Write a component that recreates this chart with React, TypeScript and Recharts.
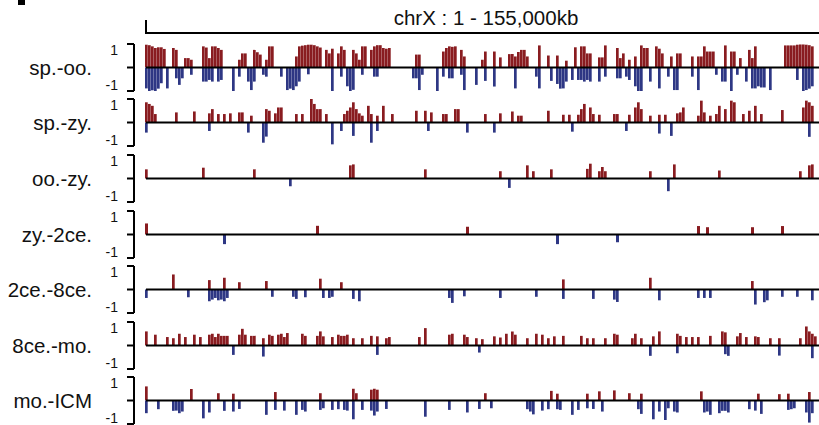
import React from "react";
import { ComposedChart, Bar, XAxis, YAxis, ReferenceLine } from "recharts";

// chrX split into 224 bins (~0.69 Mb each); values are [bin, magnitude]
const BIN_COUNT = 224;
const X_MIN = -4.17;
const X_MAX = 224.17;
const BASE_START = -0.17;

const RED = "#891c20";
const BLUE = "#2e3784";
const FONT = "'Liberation Sans', Arial, Helvetica, sans-serif";

const spOoUp = [
    [0, 0.97], [1, 0.95], [2, 0.9], [3, 0.83], [4, 0.86], [5, 0.86], [6, 0.79], [9, 0.83], [10, 0.75], [13, 0.4],
    [14, 0.4], [15, 0.33], [19, 0.9], [20, 0.85], [21, 0.4], [22, 0.9], [23, 0.9], [24, 0.83], [25, 0.75], [31, 0.33],
    [32, 0.6], [33, 0.6], [36, 0.75], [37, 0.65], [38, 0.55], [40, 0.33], [41, 0.9], [42, 0.9], [50, 0.47], [51, 0.9],
    [52, 0.93], [53, 0.95], [54, 0.97], [55, 0.97], [56, 0.95], [57, 0.9], [58, 0.85], [60, 0.75], [61, 0.6], [62, 0.8],
    [64, 0.6], [65, 0.9], [66, 0.75], [69, 0.75], [70, 0.6], [71, 0.33], [72, 0.9], [73, 0.9], [75, 0.75], [76, 0.9],
    [77, 0.95], [78, 0.95], [79, 0.83], [80, 0.8], [81, 0.83], [90, 0.55], [91, 0.55], [99, 0.68], [100, 0.83], [101, 0.9],
    [102, 0.88], [103, 0.9], [105, 0.75], [106, 0.47], [112, 0.33], [113, 0.68], [116, 0.68], [118, 0.43], [121, 0.57], [122, 0.57],
    [123, 0.47], [124, 0.66], [125, 0.75], [126, 0.75], [127, 0.47], [131, 0.94], [134, 0.51], [137, 0.51], [140, 0.29], [143, 0.86],
    [145, 0.9], [146, 0.9], [147, 0.6], [148, 0.6], [151, 0.43], [152, 0.43], [153, 0.94], [157, 0.83], [158, 0.4], [159, 0.6],
    [161, 0.33], [163, 0.47], [165, 0.94], [166, 0.83], [167, 0.83], [170, 0.9], [171, 0.8], [172, 0.6], [175, 0.47], [177, 0.6],
    [178, 0.6], [182, 0.47], [184, 0.47], [185, 0.47], [186, 0.9], [187, 0.68], [188, 0.68], [189, 0.68], [193, 0.94], [195, 0.68],
    [196, 0.68], [198, 0.4], [201, 0.75], [202, 0.4], [203, 0.9], [213, 0.94], [214, 0.94], [215, 0.94], [216, 0.94], [217, 0.97],
    [218, 0.98], [219, 0.98], [220, 0.97], [221, 0.95], [222, 0.9],
];
const spOoDown = [
    [0, 0.89], [1, 1.0], [2, 0.97], [3, 1.0], [4, 0.9], [5, 0.67], [7, 0.89], [10, 0.46], [11, 0.74], [12, 0.46],
    [15, 0.31], [19, 0.6], [20, 0.6], [21, 0.53], [22, 0.6], [24, 0.6], [25, 0.53], [29, 1.0], [31, 0.39], [34, 0.6],
    [35, 0.96], [36, 0.6], [39, 0.31], [40, 0.39], [45, 0.39], [47, 0.96], [48, 0.9], [49, 0.96], [50, 0.8], [51, 0.6],
    [54, 0.29], [62, 1.0], [65, 0.39], [67, 0.8], [68, 1.0], [69, 0.95], [72, 0.31], [76, 0.39], [77, 0.39], [89, 0.46],
    [90, 0.46], [91, 0.96], [92, 0.31], [97, 1.0], [99, 0.39], [101, 0.46], [102, 0.46], [105, 0.31], [106, 0.96], [110, 0.74],
    [113, 0.57], [116, 0.81], [123, 0.89], [130, 0.39], [131, 0.89], [135, 0.57], [137, 0.7], [138, 0.9], [139, 0.89], [140, 0.6],
    [142, 0.53], [144, 0.53], [145, 0.53], [146, 0.6], [147, 0.53], [148, 0.6], [151, 0.6], [153, 0.39], [157, 0.46], [158, 0.46],
    [160, 0.39], [161, 0.53], [163, 0.8], [164, 1.0], [165, 1.0], [168, 0.6], [171, 0.89], [174, 0.39], [176, 0.96], [177, 0.96],
    [182, 0.39], [184, 0.96], [190, 0.31], [192, 0.6], [193, 0.6], [195, 1.0], [197, 0.31], [200, 0.6], [202, 0.89], [203, 0.89],
    [204, 0.8], [205, 0.85], [206, 0.85], [208, 0.96], [217, 0.53], [219, 1.0], [220, 0.96], [221, 0.9], [222, 0.8],
];

const spZyUp = [
    [0, 0.86], [1, 0.79], [2, 0.71], [3, 0.36], [10, 0.43], [16, 0.47], [21, 0.39], [22, 0.57], [24, 0.36], [26, 0.36],
    [28, 0.39], [31, 0.43], [32, 0.43], [35, 0.29], [40, 0.57], [41, 0.5], [43, 0.39], [44, 0.64], [45, 0.64], [50, 0.36],
    [52, 0.36], [55, 1.0], [56, 0.79], [57, 0.57], [58, 0.57], [60, 0.36], [66, 0.36], [67, 0.5], [68, 0.64], [69, 0.86],
    [70, 0.57], [71, 0.39], [72, 0.29], [74, 0.71], [75, 0.36], [77, 0.29], [79, 0.71], [82, 0.36], [90, 0.5], [93, 0.5],
    [95, 0.43], [99, 0.36], [100, 0.36], [103, 0.57], [104, 0.57], [113, 0.36], [118, 0.39], [122, 0.47], [124, 0.29], [125, 0.29],
    [134, 0.5], [139, 0.33], [141, 0.33], [144, 0.33], [145, 0.57], [146, 0.79], [148, 0.64], [149, 0.36], [151, 0.33], [156, 0.36],
    [157, 0.36], [161, 0.33], [163, 0.64], [164, 0.86], [165, 0.57], [168, 0.29], [171, 0.33], [173, 0.33], [177, 0.39], [178, 0.43],
    [179, 0.64], [184, 0.29], [185, 0.93], [186, 0.43], [188, 0.29], [190, 0.36], [191, 0.71], [193, 0.57], [195, 0.93], [196, 0.86],
    [199, 0.36], [201, 0.5], [203, 0.71], [205, 0.36], [212, 0.53], [219, 0.64], [220, 0.93], [221, 0.86], [222, 0.71],
];
const spZyDown = [
    [0, 0.43], [21, 0.36], [34, 0.43], [39, 0.86], [40, 0.6], [62, 0.93], [65, 0.36], [69, 0.57], [75, 0.86], [77, 0.36],
    [94, 0.36], [107, 0.43], [116, 0.43], [142, 0.39], [160, 0.36], [171, 0.47], [175, 0.57], [221, 0.61],
];

const ooZyUp = [
    [0, 0.39], [19, 0.46], [36, 0.39], [68, 0.56], [69, 0.6], [93, 0.39], [118, 0.31], [127, 0.56], [129, 0.31], [135, 0.39],
    [147, 0.41], [148, 0.63], [151, 0.31], [152, 0.49], [153, 0.31], [168, 0.31], [176, 0.6], [191, 0.34], [218, 0.31], [221, 0.56],
    [222, 0.6],
];
const ooZyDown = [[48, 0.33], [121, 0.4], [174, 0.54]];

const zy2ceUp = [[0, 0.47], [57, 0.37], [107, 0.33], [184, 0.36], [187, 0.31], [202, 0.31], [212, 0.36]];
const zy2ceDown = [[26, 0.41], [137, 0.41], [157, 0.33]];

const ce2ce8Up = [
    [9, 0.64], [21, 0.4], [26, 0.5], [31, 0.31], [40, 0.36], [58, 0.46], [65, 0.31], [139, 0.43], [168, 0.5], [202, 0.36],
];
const ce2ce8Down = [
    [0, 0.36], [14, 0.33], [21, 0.5], [22, 0.43], [23, 0.36], [24, 0.46], [25, 0.43], [26, 0.5], [27, 0.36], [42, 0.31],
    [49, 0.31], [50, 0.4], [53, 0.33], [59, 0.36], [61, 0.36], [62, 0.31], [69, 0.4], [71, 0.5], [101, 0.36], [102, 0.57],
    [106, 0.29], [118, 0.36], [130, 0.31], [139, 0.4], [149, 0.4], [156, 0.43], [157, 0.53], [171, 0.46], [184, 0.36], [186, 0.36],
    [188, 0.36], [203, 0.64], [206, 0.54], [207, 0.46], [212, 0.31], [217, 0.31], [222, 0.46],
];

const ce8MoUp = [
    [0, 0.6], [3, 0.46], [7, 0.36], [9, 0.31], [11, 0.5], [13, 0.36], [16, 0.46], [18, 0.36], [21, 0.46], [22, 0.5],
    [23, 0.36], [24, 0.5], [25, 0.41], [26, 0.41], [27, 0.41], [31, 0.46], [32, 0.71], [33, 0.46], [35, 0.41], [36, 0.41],
    [39, 0.31], [41, 0.46], [42, 0.41], [44, 0.46], [45, 0.5], [46, 0.36], [47, 0.53], [52, 0.5], [53, 0.41], [57, 0.41],
    [58, 0.6], [59, 0.39], [62, 0.36], [64, 0.46], [65, 0.41], [66, 0.41], [67, 0.46], [69, 0.31], [72, 0.31], [75, 0.41],
    [77, 0.39], [80, 0.31], [81, 0.36], [91, 0.36], [93, 0.74], [101, 0.46], [102, 0.5], [106, 0.46], [107, 0.36], [110, 0.31],
    [112, 0.27], [116, 0.39], [118, 0.34], [120, 0.5], [122, 0.6], [123, 0.46], [127, 0.31], [130, 0.5], [132, 0.46], [134, 0.31],
    [136, 0.39], [139, 0.41], [145, 0.41], [147, 0.31], [149, 0.31], [153, 0.31], [156, 0.5], [157, 0.46], [162, 0.31], [163, 0.5],
    [165, 0.31], [169, 0.39], [171, 0.6], [177, 0.5], [178, 0.41], [180, 0.36], [182, 0.36], [184, 0.36], [188, 0.41], [192, 0.6],
    [193, 0.56], [197, 0.39], [198, 0.53], [200, 0.36], [203, 0.39], [204, 0.36], [208, 0.31], [211, 0.31], [218, 0.31], [220, 0.81],
    [221, 0.6], [222, 0.5], [223, 0.39],
];
const ce8MoDown = [
    [29, 0.4], [39, 0.47], [77, 0.4], [111, 0.3], [168, 0.44], [177, 0.33], [193, 0.37], [194, 0.44], [211, 0.43], [222, 0.54],
];

const moIcmUp = [
    [0, 0.6], [15, 0.49], [24, 0.31], [29, 0.29], [43, 0.36], [58, 0.31], [69, 0.5], [70, 0.31], [75, 0.46], [76, 0.5],
    [77, 0.46], [113, 0.31], [135, 0.41], [137, 0.29], [147, 0.29], [151, 0.39], [156, 0.43], [161, 0.31], [165, 0.29], [185, 0.39],
    [204, 0.29], [211, 0.27], [214, 0.29], [221, 0.36],
];
const moIcmDown = [
    [0, 0.54], [4, 0.37], [9, 0.44], [10, 0.43], [11, 0.54], [12, 0.47], [19, 0.76], [21, 0.51], [26, 0.44], [29, 0.47],
    [31, 0.36], [40, 0.61], [43, 0.4], [46, 0.43], [50, 0.61], [52, 0.4], [53, 0.47], [58, 0.4], [59, 0.33], [62, 0.4],
    [64, 0.37], [66, 0.4], [67, 0.43], [69, 0.8], [72, 0.4], [75, 0.43], [76, 0.64], [77, 0.47], [80, 0.36], [93, 0.69],
    [101, 0.4], [107, 0.51], [111, 0.36], [115, 0.33], [127, 0.37], [128, 0.47], [129, 0.59], [132, 0.43], [134, 0.37], [137, 0.37],
    [138, 0.4], [142, 0.61], [144, 0.4], [147, 0.33], [149, 0.36], [152, 0.47], [164, 0.37], [165, 0.57], [169, 0.8], [171, 0.47],
    [173, 0.83], [174, 0.33], [176, 0.47], [177, 0.51], [186, 0.51], [187, 0.47], [188, 0.61], [191, 0.54], [192, 0.44], [193, 0.44],
    [194, 0.51], [201, 0.37], [203, 0.43], [205, 0.57], [214, 0.4], [215, 0.37], [216, 0.33], [220, 0.51], [221, 0.94], [222, 0.54],
];

const trackNames = ["sp.-oo.", "sp.-zy.", "oo.-zy.", "zy.-2ce.", "2ce.-8ce.", "8ce.-mo.", "mo.-ICM"];
const trackUp = [spOoUp, spZyUp, ooZyUp, zy2ceUp, ce2ce8Up, ce8MoUp, moIcmUp];
const trackDown = [spOoDown, spZyDown, ooZyDown, zy2ceDown, ce2ce8Down, ce8MoDown, moIcmDown];

const buildRows = (up: number[][], down: number[][]) => {
    const byBin: Record<number, { bin: number; up: number; down: number }> = {};
    const get = (b: number) => {
        if (!byBin[b]) byBin[b] = { bin: b, up: 0, down: 0 };
        return byBin[b];
    };
    up.forEach(([b, v]) => { if (b < BIN_COUNT) get(b).up = v; });
    down.forEach(([b, v]) => { if (b < BIN_COUNT) get(b).down = -v; });
    return Object.values(byBin).sort((a, b) => a.bin - b.bin);
};

const FIRST_BASELINE = 67.2;
const ROW_STEP = 55.6;
const HALF = 23.5;
const TOP_MARGIN = 4;

const AxisTick = (props: any) => {
    const { x, y, payload, label } = props;
    if (payload.value === 0) {
        return (
            <text x={x - 33} y={y + 7} textAnchor="end" fontSize={20.5} fill="#111" fontFamily={FONT}>
                {label}
            </text>
        );
    }
    const dy = payload.value > 0 ? 6 : -6.5;
    return (
        <text x={x - 7} y={y + dy} textAnchor="end" dominantBaseline="central" fontSize={14} fill="#111" fontFamily={FONT}>
            {payload.value}
        </text>
    );
};

const Track = ({ index }: { index: number }) => {
    const rows = buildRows(trackUp[index], trackDown[index]);
    const baseline = FIRST_BASELINE + ROW_STEP * index;
    return (
        <div style={{ position: "absolute", left: 0, top: baseline - HALF - TOP_MARGIN }}>
            <ComposedChart
                width={819}
                height={55}
                data={rows}
                stackOffset="sign"
                margin={{ top: TOP_MARGIN, right: 0, bottom: 55 - TOP_MARGIN - 2 * HALF, left: 0 }}
            >
                <XAxis type="number" dataKey="bin" domain={[X_MIN, X_MAX]} hide allowDataOverflow />
                <YAxis
                    type="number"
                    domain={[-1, 1]}
                    ticks={[-1, 0, 1]}
                    interval={0}
                    width={134}
                    allowDataOverflow
                    axisLine={{ stroke: "#000", strokeWidth: 2 }}
                    tickLine={{ stroke: "#000", strokeWidth: 2 }}
                    tickSize={7}
                    tick={(p: any) => <AxisTick {...p} label={trackNames[index]} />}
                />
                <Bar dataKey="up" stackId="s" fill={RED} barSize={3} isAnimationActive={false} />
                <Bar dataKey="down" stackId="s" fill={BLUE} barSize={3} isAnimationActive={false} />
                <ReferenceLine
                    segment={[{ x: BASE_START, y: 0 }, { x: X_MAX, y: 0 }]}
                    stroke="#000"
                    strokeWidth={2}
                    ifOverflow="extendDomain"
                />
            </ComposedChart>
        </div>
    );
};

export default function App() {
    return (
        <div style={{ position: "absolute", left: 0, top: 0, width: 819, height: 425, background: "#fff", fontFamily: FONT, overflow: "hidden" }}>
            <div style={{ position: "absolute", left: 18, top: 0, width: 7, height: 5, background: "#000" }} />
            <svg width={819} height={40} style={{ position: "absolute", left: 0, top: 0 }}>
                <line x1={146} y1={20} x2={146} y2={34} stroke="#000" strokeWidth={2} />
                <line x1={145} y1={33} x2={819} y2={33} stroke="#000" strokeWidth={2} />
                <text x={486} y={25} textAnchor="middle" fontSize={20.5} fill="#111" fontFamily={FONT}>
                    chrX : 1 - 155,000kb
                </text>
            </svg>
            {trackNames.map((_, i) => (
                <Track key={i} index={i} />
            ))}
        </div>
    );
}
